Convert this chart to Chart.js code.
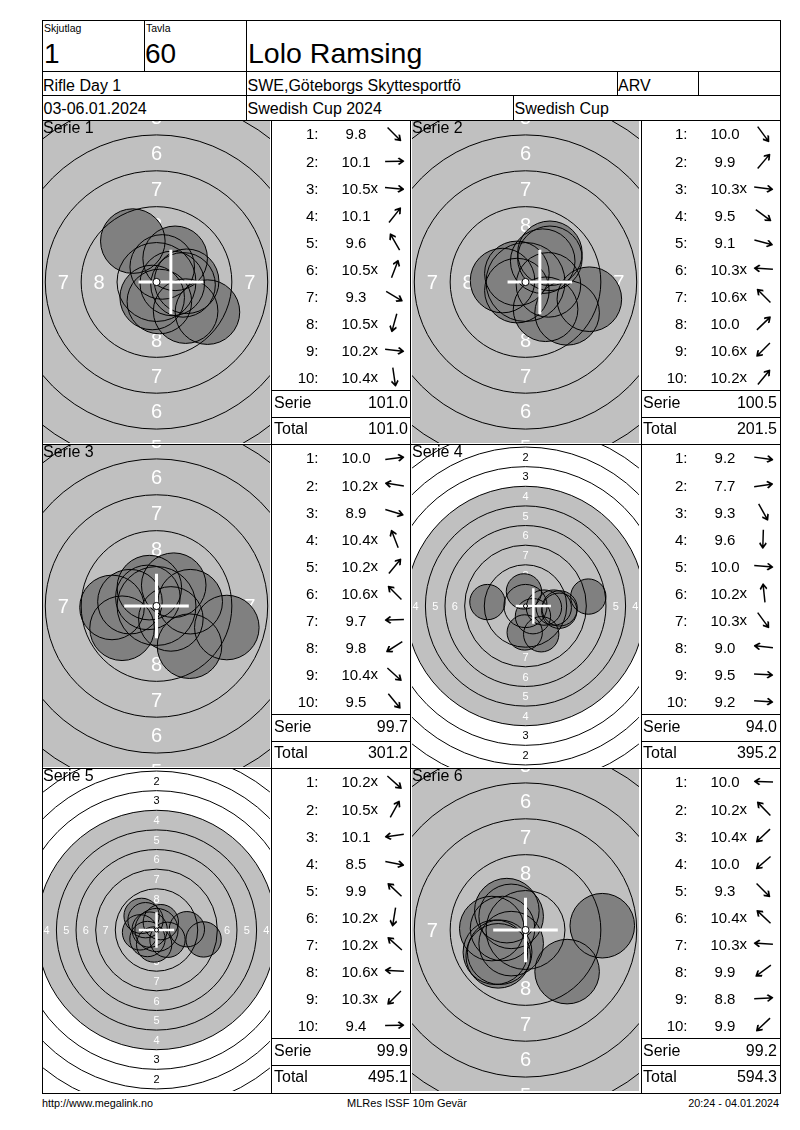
<!DOCTYPE html>
<html>
<head>
<meta charset="utf-8">
<script src="https://cdn.jsdelivr.net/npm/chart.js@4.4.1/dist/chart.umd.min.js"></script>
<style>
  body { margin: 0; background: #fff; font-family: "Liberation Sans", Arial, sans-serif; color: #000; }
  #page { position: relative; width: 800px; height: 1130px; overflow: hidden; }
  .t { position: absolute; white-space: nowrap; }
  canvas { position: absolute; }
</style>
</head>
<body>
<div id="page"></div>
<script>
// Serier och skott (koordinater i mm från tavlans centrum, y uppåt)
const seriesNames = ['Serie 1', 'Serie 2', 'Serie 3', 'Serie 4', 'Serie 5', 'Serie 6'];
const shotScores = [
  ['9.8', '10.1', '10.5x', '10.1', '9.6', '10.5x', '9.3', '10.5x', '10.2x', '10.4x'],
  ['10.0', '9.9', '10.3x', '9.5', '9.1', '10.3x', '10.6x', '10.0', '10.6x', '10.2x'],
  ['10.0', '10.2x', '8.9', '10.4x', '10.2x', '10.6x', '9.7', '9.8', '10.4x', '9.5'],
  ['9.2', '7.7', '9.3', '9.6', '10.0', '10.2x', '10.3x', '9.0', '9.5', '9.2'],
  ['10.2x', '10.5x', '10.1', '8.5', '9.9', '10.2x', '10.2x', '10.6x', '10.3x', '9.4'],
  ['10.0', '10.2x', '10.4x', '10.0', '9.3', '10.4x', '10.3x', '9.9', '8.8', '9.9']
];
const shotX = [
  [2.03, 2.1, 1.1, 1.3, -1.65, 0.4, 3.55, -0.3, 1.85, 0.2],
  [1.4, 1.7, 1.6, 2.9, 4.45, -1.6, -0.6, 1.7, -0.6, 1.2],
  [2.35, -1.85, 4.9, -0.5, 1.2, -0.6, -3.1, -2.4, 1.0, 2.3],
  [4.3, 8.0, 2.0, -0.1, 2.35, -0.2, 0.95, -4.85, 3.6, 4.35],
  [1.4, 0.55, -2.1, 6.0, -1.9, -0.3, -1.4, -0.87, -1.15, 3.87],
  [-2.35, -1.3, -1.0, -1.8, 2.9, -1.0, -1.6, -2.1, 5.35, -1.9]
];
const shotY = [
  [-2.03, 0.05, -0.1, 1.65, 2.85, 1.05, -2.1, -1.08, -0.2, -1.36],
  [-1.9, 2.0, -0.2, -2.15, -1.2, 0.1, 0.6, 1.65, -0.6, 1.45],
  [0.3, 0.3, -1.5, 1.28, 1.45, 0.6, -0.1, -1.55, -0.9, -2.8],
  [-0.6, 1.2, -3.6, -3.37, -0.2, 1.86, -1.3, 0.5, -0.2, -0.3],
  [-1.25, 1.0, -0.3, -1.2, 1.8, -1.85, 1.25, 0.05, -1.15, 0.1],
  [0.1, 1.35, -0.95, -1.55, -2.9, 0.95, 0.1, -1.55, 0.3, -1.8]
];
const serieSums = ['101.0', '100.5', '99.7', '94.0', '99.9', '99.2'];
const runningTotals = ['101.0', '201.5', '301.2', '395.2', '495.1', '594.3'];
const crossX = [1.0, 1.0, 0.0, 1.0, 0.0, 0.0];
const crossY = [0, 0, 0, 0, 0, 0];

// ISSF 10m gevär: ringradier 1..10 (mm) och siffror i zonerna
const ringRadii = [22.75, 20.25, 17.75, 15.25, 12.75, 10.25, 7.75, 5.25, 2.75, 0.25];
const ringLabels = ['1', '2', '3', '4', '5', '6', '7', '8'];
const PELLET_R = 2.25;

// px per mm för varje tavla (inzoomad / utzoomad)
const targetZoom = [14.35, 14.35, 14.35, 7.85, 7.85, 14.35];

const page = document.getElementById('page');

function bar(x, y, w, h) {
  const d = document.createElement('div');
  d.style.cssText = `position:absolute;left:${x}px;top:${y}px;width:${w}px;height:${h}px;background:#000`;
  page.appendChild(d);
}
function text(s, x, capY, fs, align) {
  const d = document.createElement('div');
  d.className = 't';
  d.textContent = s;
  d.style.fontSize = fs + 'px';
  d.style.lineHeight = fs + 'px';
  d.style.top = (capY - 0.489 * fs) + 'px';
  if (align === 'right') {
    d.style.left = (x - 400) + 'px'; d.style.width = '400px'; d.style.textAlign = 'right';
  } else if (align === 'center') {
    d.style.left = (x - 200) + 'px'; d.style.width = '400px'; d.style.textAlign = 'center';
  } else {
    d.style.left = x + 'px';
  }
  page.appendChild(d);
  return d;
}

// ram och huvud
bar(42, 20, 739, 1); bar(42, 71, 739, 1); bar(42, 95, 739, 1); bar(42, 120, 739, 1);
bar(42, 444, 739, 1); bar(42, 768, 739, 1); bar(42, 1093, 739, 1);
bar(42, 20, 1, 1074); bar(780, 20, 1, 1074);
bar(144, 20, 1, 51); bar(246, 20, 1, 100);
bar(617, 71, 1, 24); bar(698, 71, 1, 24); bar(513, 95, 1, 25);
bar(271, 120, 1, 973); bar(410, 120, 1, 973); bar(641, 120, 1, 973);

text('Skjutlag', 44, 27.9, 10.5);
text('Tavla', 146, 27.9, 10.5);
text('1', 44, 53.3, 28);
text('60', 145, 53.3, 28);
text('Lolo Ramsing', 248, 53.3, 28.5);
text('Rifle Day 1', 43, 86, 16);
text('SWE,Göteborgs Skyttesportfö', 247.5, 86, 16);
text('ARV', 618, 86, 16);
text('03-06.01.2024', 43.5, 109.3, 16);
text('Swedish Cup 2024', 247.5, 109.3, 16);
text('Swedish Cup', 514.5, 109.3, 16);

text('http://www.megalink.no', 42, 1103.4, 10.8);
text('MLRes ISSF 10m Gevär', 407, 1103.4, 11, 'center');
text('20:24 - 04.01.2024', 779, 1103.4, 10.8, 'right');

const targetPlugin = {
  id: 'target',
  beforeDatasetsDraw(chart) {
    const { ctx, scales: { x, y } } = chart;
    const cx = x.getPixelForValue(0), cy = y.getPixelForValue(0);
    const k = x.getPixelForValue(1) - cx;
    ctx.save();
    ctx.fillStyle = '#c0c0c0';
    ctx.beginPath();
    ctx.arc(cx, cy, ringRadii[3] * k, 0, 2 * Math.PI);
    ctx.fill();
    const fs = k * 1.4;
    ctx.font = fs + 'px "Liberation Sans", Arial, sans-serif';
    ctx.textAlign = 'center';
    ctx.textBaseline = 'alphabetic';
    ringLabels.forEach((lab, n) => {
      const r = (ringRadii[n] + ringRadii[n + 1]) / 2 * k;
      ctx.fillStyle = n >= 3 ? '#ffffff' : '#000000';
      [[0, -r], [0, r], [-r, 0], [r, 0]].forEach(([dx, dy]) => {
        ctx.fillText(lab, cx + dx, cy + dy + fs * 0.36);
      });
    });
    ctx.restore();
  },
  afterDatasetsDraw(chart) {
    const { ctx, scales: { x, y } } = chart;
    const cx = x.getPixelForValue(0), cy = y.getPixelForValue(0);
    const k = x.getPixelForValue(1) - cx;
    const i = chart.options.plugins.target.index;
    ctx.save();
    ctx.strokeStyle = '#000';
    ctx.lineWidth = 1;
    for (let n = 0; n < 9; n++) {
      ctx.beginPath();
      ctx.arc(cx, cy, ringRadii[n] * k, 0, 2 * Math.PI);
      ctx.stroke();
    }
    // kors
    const px = x.getPixelForValue(crossX[i]), py = y.getPixelForValue(crossY[i]);
    const arm = PELLET_R * k;
    ctx.strokeStyle = '#fff';
    ctx.lineWidth = k > 10 ? 3 : 2.5;
    ctx.beginPath();
    ctx.moveTo(px - arm, py); ctx.lineTo(px + arm, py);
    ctx.moveTo(px, py - arm); ctx.lineTo(px, py + arm);
    ctx.stroke();
    // tian
    ctx.fillStyle = '#fff';
    ctx.strokeStyle = '#000';
    ctx.lineWidth = 1;
    ctx.beginPath();
    ctx.arc(cx, cy, Math.max(ringRadii[9] * k, 2), 0, 2 * Math.PI);
    ctx.fill();
    ctx.stroke();
    ctx.restore();
  }
};

const rowTop = [120, 444, 768];
const pelletPx = (c) => {
  const sx = c.chart.scales.x;
  return Math.abs(sx.getPixelForValue(PELLET_R) - sx.getPixelForValue(0));
};

for (let i = 0; i < 6; i++) {
  const col = i % 2, row = Math.floor(i / 2);
  const y0 = rowTop[row];
  const left = col ? 412 : 43;
  const cw = 227, ch = 322;
  const canvas = document.createElement('canvas');
  canvas.width = cw; canvas.height = ch;
  canvas.style.left = left + 'px';
  canvas.style.top = (y0 + 1) + 'px';
  canvas.style.width = cw + 'px';
  canvas.style.height = ch + 'px';
  page.appendChild(canvas);

  const k = targetZoom[i];
  const halfW = cw / 2 / k, halfH = ch / 2 / k;
  const pts = shotX[i].map((v, j) => ({ x: v, y: shotY[i][j] }));

  new Chart(canvas, {
    type: 'scatter',
    data: {
      datasets: [
        { data: pts, pointRadius: pelletPx, backgroundColor: 'rgba(0,0,0,0)', borderColor: '#000', borderWidth: 1, order: 0 },
        { data: pts, pointRadius: pelletPx, backgroundColor: '#808080', borderWidth: 0, order: 1 }
      ]
    },
    options: {
      responsive: false,
      animation: false,
      devicePixelRatio: 1,
      events: [],
      layout: { padding: 0 },
      scales: {
        x: { type: 'linear', display: false, min: -halfW, max: halfW },
        y: { type: 'linear', display: false, min: -halfH, max: halfH }
      },
      plugins: { legend: { display: false }, tooltip: { enabled: false }, target: { index: i } }
    },
    plugins: [targetPlugin]
  });

  text(seriesNames[i], left, y0 + 7.6, 16);

  // skottabell
  const tl = col ? 641 : 272;
  const tr = col ? 780 : 410;
  shotScores[i].forEach((s, j) => {
    const cy = y0 + 13.8 + 27.05 * j;
    text((j + 1) + ':', tl + 46.5, cy, 15, 'right');
    const d = text('', tl + 84, cy, 15, 'center');
    const sp = document.createElement('span');
    sp.style.position = 'relative';
    const m = s.match(/^([\d.]+)(x?)$/);
    sp.textContent = m[1];
    if (m[2]) {
      const xs = document.createElement('span');
      xs.textContent = 'x';
      xs.style.cssText = 'position:absolute;left:100%;top:0';
      sp.appendChild(xs);
    }
    d.appendChild(sp);
    const deg = -Math.atan2(shotY[i][j], shotX[i][j]) * 180 / Math.PI;
    const a = text('', tl + 123, cy, 18, 'center');
    const as = document.createElement('span');
    as.textContent = '→';
    as.style.display = 'inline-block';
    as.style.fontFamily = '"DejaVu Sans", sans-serif';
    as.style.transform = `rotate(${deg.toFixed(1)}deg) scaleX(1.45)`;
    a.appendChild(as);
  });
  bar(tl, y0 + 270, tr - tl, 1);
  bar(tl, y0 + 297, tr - tl, 1);
  text('Serie', tl + 2, y0 + 282.5, 16);
  text(serieSums[i], tl + 136, y0 + 282.5, 16, 'right');
  text('Total', tl + 2, y0 + 309, 16);
  text(runningTotals[i], tl + 136, y0 + 309, 16, 'right');
}
</script>
</body>
</html>
